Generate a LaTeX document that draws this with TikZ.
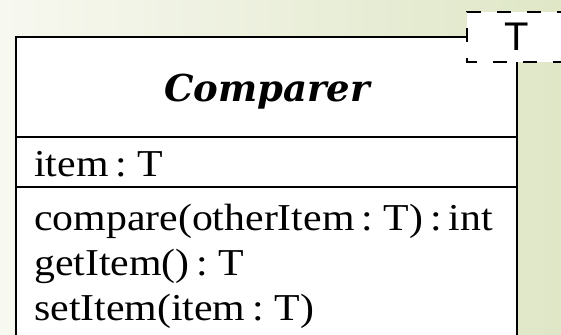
\documentclass[tikz,border=0pt]{standalone}
\usepackage{fontspec}
\newfontfamily\bodyfont{Liberation Serif}[FakeStretch=1.1]
\newfontfamily\headfont{DejaVu Serif}
\newfontfamily\tfont{Liberation Sans}
\newcommand\memberfont{\bodyfont\fontsize{38}{40}\selectfont\spaceskip=7pt\relax}
\definecolor{bgl}{RGB}{247,248,240}
\definecolor{bgr}{RGB}{223,231,199}
\begin{document}
\begin{tikzpicture}[x=1pt,y=1pt,
  border/.style={line width=2.3pt, draw=black},
  member/.style={anchor=base west, inner sep=0pt, font=\memberfont},
  titletext/.style={anchor=base, inner sep=0pt, font=\headfont\bfseries\itshape\fontsize{37}{40}\selectfont},
  tparamline/.style={line width=1.9pt, draw=black, dash pattern=on 14pt off 16pt, dash phase=4pt},
  tparamtext/.style={anchor=center, inner sep=0pt, font=\tfont\fontsize{40}{44}\selectfont}
]
\useasboundingbox (0,0) rectangle (561,-334);
\clip (0,0) rectangle (561,-334);
\shade[left color=bgl, right color=bgr] (0,0) rectangle (561,-334);
% class box
\fill[white] (16,-37) rectangle (517,-345);
\draw[border] (16,-345) -- (16,-37) -- (517,-37) -- (517,-345);
\draw[border] (16,-137) -- (517,-137);
\draw[border] (16,-187) -- (517,-187);
\node[titletext] (title) at (267,-101) {Comparer};
\node[member] (attr) at (34,-176) {item : T};
\node[member] (op1) at (34,-230) {compare(otherItem : T) : int};
\node[member] (op2) at (34,-275) {getItem() : T};
\node[member] (op3) at (34,-320) {setItem(item : T)};
% template parameter box
\fill[white] (467,-12) rectangle (567,-62);
\draw[tparamline] (567,-12) -- (467,-12) -- (467,-62) -- (567,-62);
\node[tparamtext] (tparam) at (517,-37) {T};
\end{tikzpicture}
\end{document}
